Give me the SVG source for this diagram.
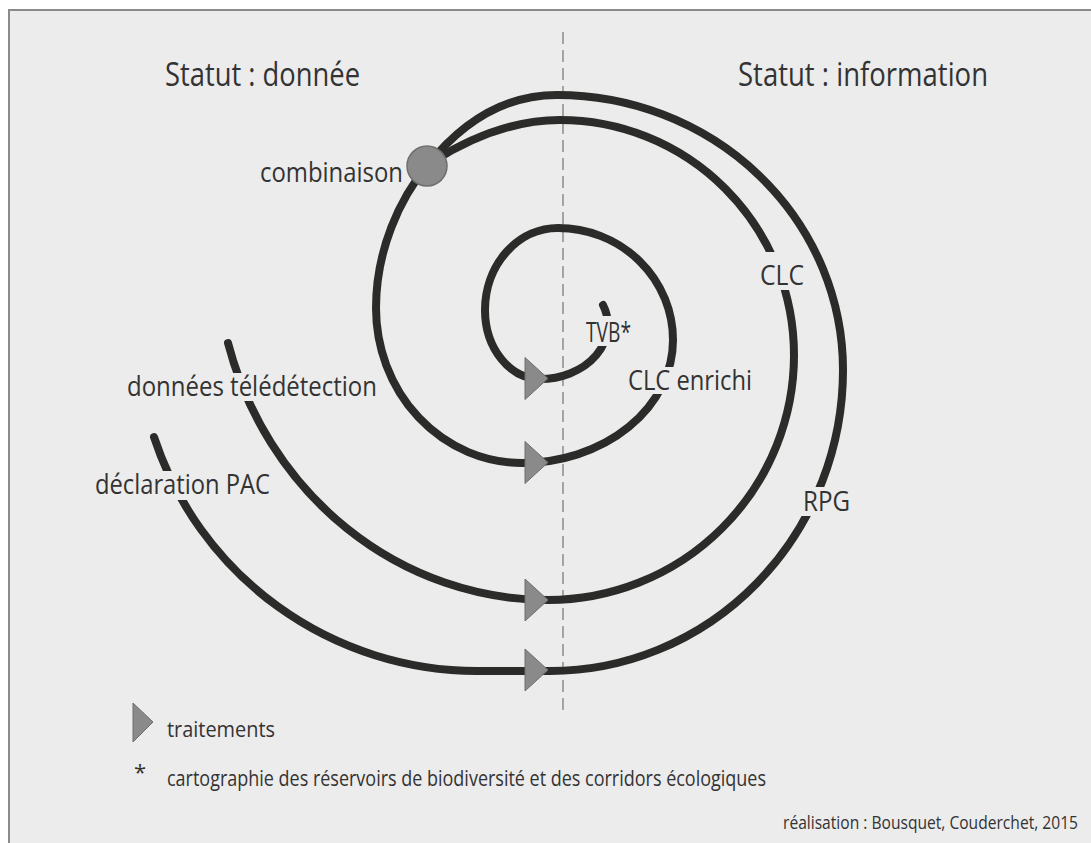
<svg xmlns="http://www.w3.org/2000/svg" width="1091" height="843" viewBox="0 0 1091 843">
  <style>
    .bg { fill: #ececec; stroke: none; }
    .frame { fill: none; stroke: #8a8a8a; stroke-width: 2; }
    .flow { fill: none; stroke: #2b2b29; stroke-width: 8; stroke-linecap: round; }
    .axis { fill: none; stroke: #8c8c8c; stroke-width: 1.5; stroke-dasharray: 12 6; }
    .tri { fill: #8a8a8a; stroke: #6e6e6e; stroke-width: 1; }
    .mask { fill: #ececec; stroke: none; }
    text { font-family: "Open Sans", "Liberation Sans", sans-serif; fill: #333333; }
    .title { font-size: 32px; }
    .lab { font-size: 27px; }
    .leg { font-size: 22px; }
    .cred { font-size: 18px; }
  </style>
  <defs>
    <polygon id="triShape" class="tri" points="-23,-21 0,0 -23,21"/>
  </defs>

  <rect class="bg" x="9" y="10" width="1082" height="833"/>
  <polyline class="frame" points="9,843 9,10 1091,10"/>

  <line class="axis" x1="563" y1="32" x2="563" y2="712"/>

  <g id="status-labels">
    <text class="title" x="165" y="86" textLength="195" lengthAdjust="spacingAndGlyphs">Statut : donnée</text>
    <text class="title" x="738" y="86" textLength="250" lengthAdjust="spacingAndGlyphs">Statut : information</text>
  </g>

  <g id="connectors">
    <path id="flow-pac-rpg" class="flow" d="M 154 437 A 340 340 0 0 0 477 671 L 550 671 A 293 301 0 0 0 843 370 A 286 275 0 0 0 557 95 C 505 95 462 122 427 166"/>
    <path id="flow-teledetection-clc" class="flow" d="M 228 343 A 332 350 0 0 0 548 600 A 246 245 0 0 0 794 355 A 234 235 0 0 0 560 120 C 515 120 470 138 432 162"/>
    <path id="flow-combinaison-tvb" class="flow" d="M 427 166 C 400 198 376 250 376 308 A 146 155 0 0 0 522 463 A 151 123 0 0 0 673 340 A 115 112 0 0 0 558 228 A 73 82 0 0 0 485 310 A 55 69 0 0 0 540 379 A 68 54 0 0 0 603 305"/>
  </g>

  <g id="node-declaration-pac">
    <rect class="mask" x="93" y="471" width="180" height="29"/>
    <text class="lab" x="95" y="494" textLength="175" lengthAdjust="spacingAndGlyphs">déclaration PAC</text>
  </g>
  <g id="node-donnees-teledetection">
    <rect class="mask" x="125" y="373" width="254" height="28"/>
    <text class="lab" x="127" y="396" textLength="250" lengthAdjust="spacingAndGlyphs">données télédétection</text>
  </g>
  <g id="node-rpg">
    <rect class="mask" x="801" y="487" width="51" height="29"/>
    <text class="lab" x="803" y="511" textLength="47" lengthAdjust="spacingAndGlyphs">RPG</text>
  </g>
  <g id="node-clc">
    <rect class="mask" x="757" y="252" width="51" height="38"/>
    <text class="lab" x="760" y="285" textLength="44" lengthAdjust="spacingAndGlyphs">CLC</text>
  </g>
  <g id="node-clc-enrichi">
    <rect class="mask" x="626" y="367" width="128" height="27"/>
    <text class="lab" x="628" y="390" textLength="124" lengthAdjust="spacingAndGlyphs">CLC enrichi</text>
  </g>
  <g id="node-tvb">
    <rect class="mask" x="584" y="316" width="49" height="30"/>
    <text class="lab" x="586" y="342" textLength="45" lengthAdjust="spacingAndGlyphs">TVB*</text>
  </g>
  <g id="node-combinaison">
    <text class="lab" x="260" y="182" textLength="143" lengthAdjust="spacingAndGlyphs">combinaison</text>
    <circle cx="427" cy="166" r="20" fill="#8a8a8a" stroke="#6e6e6e" stroke-width="1.5"/>
  </g>

  <g id="treatments">
    <use href="#triShape" x="548" y="378.5"/>
    <use href="#triShape" x="548" y="462.5"/>
    <use href="#triShape" x="548" y="600"/>
    <use href="#triShape" x="548" y="670"/>
  </g>

  <g id="legend">
    <polygon class="tri" points="133,703 153,722 133,742"/>
    <text class="leg" x="167" y="737" textLength="108" lengthAdjust="spacingAndGlyphs">traitements</text>
    <text class="leg" x="134" y="780">*</text>
    <text class="leg" x="167" y="786" textLength="599" lengthAdjust="spacingAndGlyphs">cartographie des réservoirs de biodiversité et des corridors écologiques</text>
    <text class="cred" x="1078" y="829" text-anchor="end" textLength="295" lengthAdjust="spacingAndGlyphs">réalisation : Bousquet, Couderchet, 2015</text>
  </g>
</svg>
